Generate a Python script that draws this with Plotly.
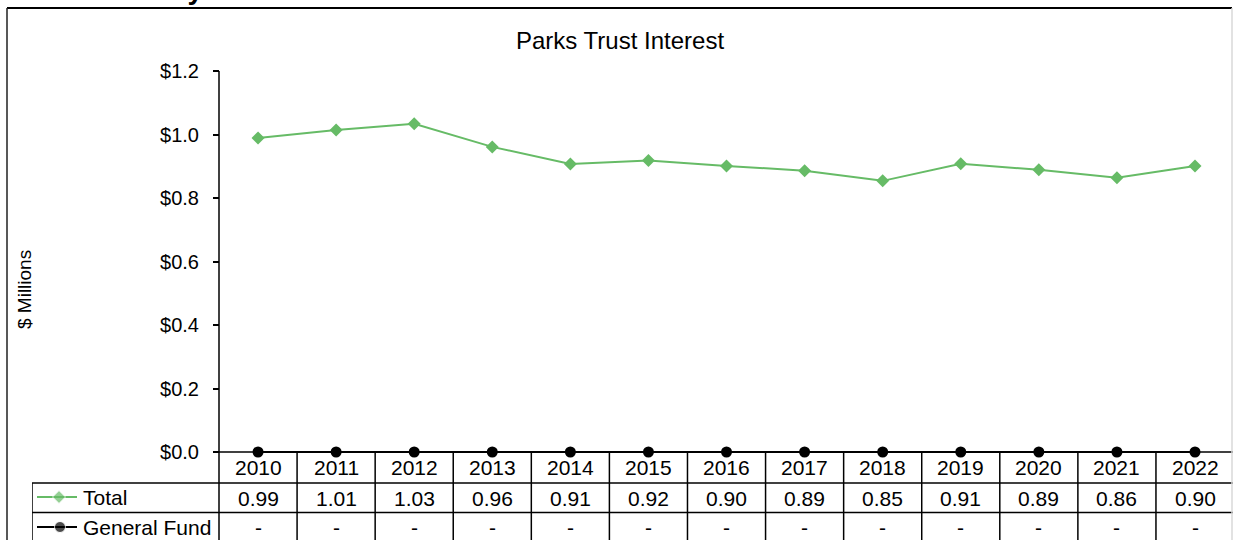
import plotly.graph_objects as go

# ---------------- data ----------------
years = ["2010", "2011", "2012", "2013", "2014", "2015", "2016",
         "2017", "2018", "2019", "2020", "2021", "2022"]
total = [0.989, 1.014, 1.034, 0.961, 0.907, 0.918, 0.901,
         0.886, 0.854, 0.908, 0.889, 0.864, 0.901]
general_fund = [0, 0, 0, 0, 0, 0, 0, 0, 0, 0, 0, 0, 0]
y_tickvals = [0.0, 0.2, 0.4, 0.6, 0.8, 1.0, 1.2]
y_ticktext = ["$0.0", "$0.2", "$0.4", "$0.6", "$0.8", "$1.0", "$1.2"]
series_names = ["Total", "General Fund"]
title_text = "Parks Trust Interest"
y_title = "$ Millions"
top_text = "Revenue History"

# ---------------- layout geometry ----------------
W, H = 1233, 540
ML, MR, MT, MB = 32, 0, 71, 0
PW, PH = W - ML - MR, H - MT - MB
COL = 78.08            # px per category
AX_PX = 219            # pixel of left edge of first category column (x=-0.5)
ZERO_PX = 452          # pixel of y = 0
YMAX = 1.2
TOP_PX = 71
SY = (ZERO_PX - TOP_PX) / YMAX


def xd(px):
    return -0.5 + (px - AX_PX) / COL


def yd(py):
    return (ZERO_PX - py) / SY


def pxp(px):
    return (px - ML) / PW


def pyp(py):
    return (H - MB - py) / PH


x_left, x_right = xd(ML), xd(W - MR)
y_bottom, y_top = yd(H - MB), YMAX

GREEN = "#66BB66"
FONT = "Liberation Sans, Arial, sans-serif"
idx = list(range(len(years)))

fig = go.Figure()
fig.add_trace(go.Scatter(
    x=idx, y=total, mode="lines+markers", name=series_names[0],
    line=dict(color=GREEN, width=2),
    marker=dict(symbol="diamond", size=10, color=GREEN),
    showlegend=False, cliponaxis=False))
fig.add_trace(go.Scatter(
    x=idx, y=general_fund, mode="lines+markers", name=series_names[1],
    line=dict(color="black", width=2),
    marker=dict(symbol="circle", size=11, color="black"),
    showlegend=False, cliponaxis=False))

# legend keys inside the data table
fig.add_trace(go.Scatter(
    x=[xd(37), xd(59), xd(77)], y=[yd(497)] * 3, mode="lines+markers",
    line=dict(color=GREEN, width=2),
    marker=dict(symbol="diamond", size=[0, 10, 0], color=GREEN),
    showlegend=False, hoverinfo="skip"))
fig.add_trace(go.Scatter(
    x=[xd(37), xd(60), xd(77)], y=[yd(527)] * 3, mode="lines+markers",
    line=dict(color="black", width=2),
    marker=dict(symbol="circle", size=[0, 11, 0], color="black"),
    showlegend=False, hoverinfo="skip"))

shapes = []
LW = 1.5
# y axis line (continues as table border)
shapes.append(dict(type="line", xref="x", yref="y", x0=-0.5, x1=-0.5,
                   y0=y_bottom, y1=YMAX, line=dict(color="black", width=LW)))
# x axis line
shapes.append(dict(type="line", xref="x", yref="y", x0=-0.5, x1=x_right,
                   y0=0, y1=0, line=dict(color="black", width=LW)))
# table horizontal lines
for py in (483, 512.5):
    shapes.append(dict(type="line", xref="x", yref="y", x0=xd(32), x1=x_right,
                       y0=yd(py), y1=yd(py), line=dict(color="black", width=LW)))
# table left border
shapes.append(dict(type="line", xref="x", yref="y", x0=xd(32), x1=xd(32),
                   y0=yd(483), y1=y_bottom, line=dict(color="black", width=LW)))
# column separators
for i in idx[:-1]:
    shapes.append(dict(type="line", xref="x", yref="y", x0=i + 0.5, x1=i + 0.5,
                       y0=0, y1=y_bottom, line=dict(color="black", width=LW)))
# outer chart frame
shapes.append(dict(type="line", xref="paper", yref="paper", x0=pxp(7), x1=pxp(1232),
                   y0=pyp(8), y1=pyp(8), line=dict(color="black", width=2)))
shapes.append(dict(type="line", xref="paper", yref="paper", x0=pxp(7), x1=pxp(7),
                   y0=pyp(8), y1=pyp(H + 5), line=dict(color="#202020", width=1.5)))
shapes.append(dict(type="line", xref="paper", yref="paper", x0=pxp(1232), x1=pxp(1232),
                   y0=pyp(8), y1=pyp(H + 5), line=dict(color="#D9D9D9", width=1.5)))

annotations = []
TF = 21
for i, yr in enumerate(years):
    annotations.append(dict(x=i, y=yd(467), xref="x", yref="y", text=yr,
                            xanchor="center", yanchor="middle",
                            showarrow=False, font=dict(size=TF, color="black")))
    annotations.append(dict(x=i, y=yd(498), xref="x", yref="y",
                            text=f"{total[i]:.2f}", showarrow=False,
                            xanchor="center", yanchor="middle",
                            font=dict(size=TF, color="black")))
    gf = general_fund[i]
    annotations.append(dict(x=i, y=yd(527), xref="x", yref="y",
                            text="-" if gf == 0 else f"{gf:.2f}", showarrow=False,
                            xanchor="center", yanchor="middle",
                            font=dict(size=TF, color="black")))
for name, py in zip(series_names, (497, 527)):
    annotations.append(dict(x=xd(81), y=yd(py), xref="x", yref="y", text=name,
                            xanchor="left", yanchor="middle", showarrow=False,
                            font=dict(size=TF, color="black")))
annotations.append(dict(x=pxp(620), y=pyp(40), xref="paper", yref="paper",
                        text=title_text, showarrow=False,
                        xanchor="center", yanchor="middle",
                        font=dict(size=24, color="black")))
annotations.append(dict(x=pxp(24), y=pyp(290), xref="paper", yref="paper",
                        text=y_title, textangle=-90, showarrow=False,
                        xanchor="center", yanchor="middle",
                        font=dict(size=19, color="black")))
annotations.append(dict(x=pxp(205), y=pyp(-11), xref="paper", yref="paper",
                        text=f"<b>{top_text}</b>", xanchor="right", yanchor="middle",
                        showarrow=False, font=dict(size=28, color="black")))

fig.update_layout(
    width=W, height=H,
    margin=dict(l=ML, r=MR, t=MT, b=MB, pad=0),
    paper_bgcolor="white", plot_bgcolor="white",
    font=dict(family=FONT, color="black"),
    showlegend=False,
    xaxis=dict(range=[x_left, x_right], visible=False, fixedrange=True),
    yaxis=dict(range=[y_bottom, y_top], anchor="free",
               position=(AX_PX - ML) / PW,
               tickvals=y_tickvals, ticktext=y_ticktext,
               ticks="outside", ticklen=6, tickwidth=1.5, tickcolor="black",
               ticklabelstandoff=10,
               tickfont=dict(size=20, color="black"),
               showgrid=False, zeroline=False, showline=False, fixedrange=True),
    shapes=shapes, annotations=annotations,
)

fig.write_html("out.html",
               config={"displayModeBar": False},
               post_script="document.body.style.margin='0';"
                           "document.body.style.overflow='hidden';")
